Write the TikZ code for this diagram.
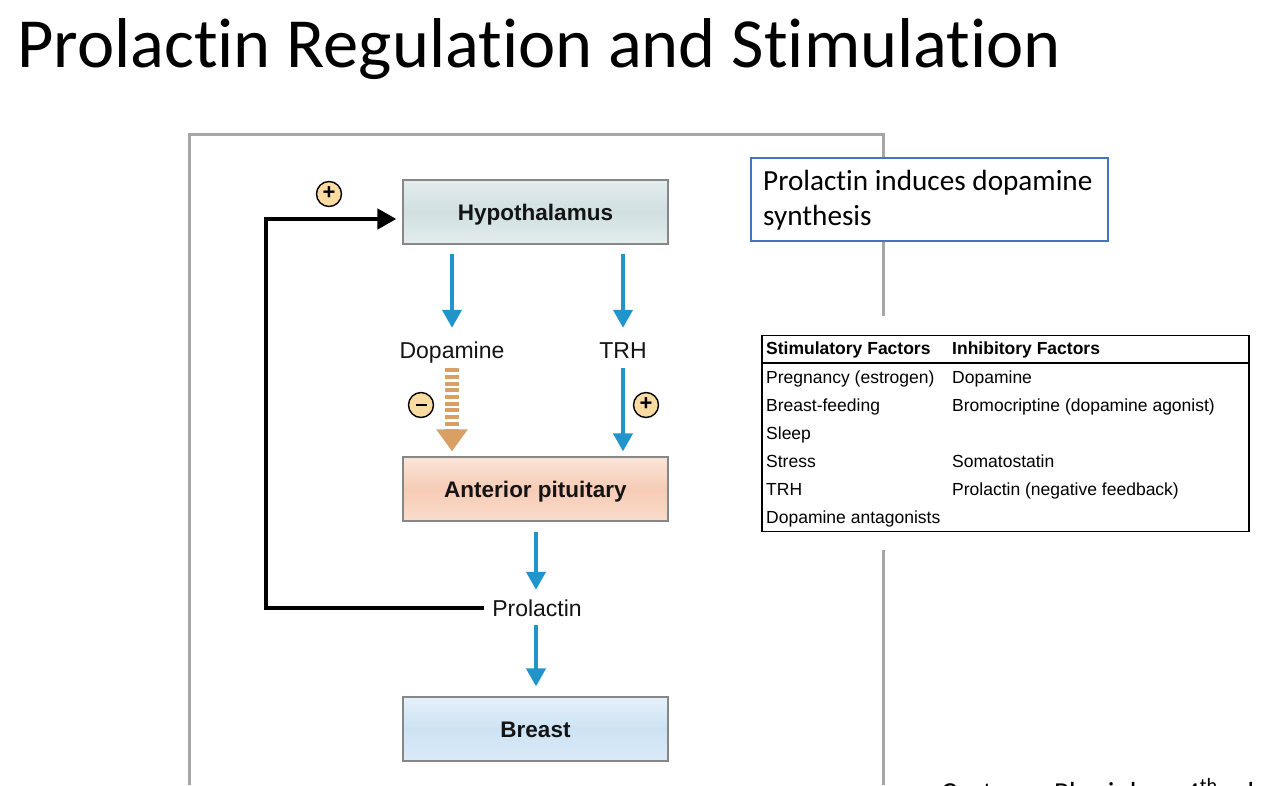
\documentclass[tikz,border=0pt]{standalone}
\usepackage{fontspec}
\setmainfont{Liberation Sans}
\newfontfamily\calibri[Ligatures=NoCommon]{Carlito}
\usetikzlibrary{arrows.meta}

\definecolor{framegray}{RGB}{166,166,166}
\definecolor{boxedge}{RGB}{135,135,135}
\definecolor{flowblue}{RGB}{32,148,203}
\definecolor{dopatan}{RGB}{217,160,102}
\definecolor{signfill}{RGB}{250,220,162}
\definecolor{noteblue}{RGB}{68,114,196}
\definecolor{hypoL}{RGB}{228,237,238}
\definecolor{hypoM}{RGB}{208,223,224}
\definecolor{pitL}{RGB}{251,229,216}
\definecolor{pitM}{RGB}{246,204,182}
\definecolor{brL}{RGB}{228,240,250}
\definecolor{brM}{RGB}{205,227,244}
\definecolor{inktext}{RGB}{20,20,20}

\tikzset{
  organ/.style={draw=boxedge, line width=1.2pt, minimum width=265pt, minimum height=64pt,
    inner sep=0pt, text height=16pt, text depth=0pt,
    font=\fontsize{22.5}{26}\selectfont\bfseries, text=inktext},
  lbl/.style={inner sep=0pt, text height=17pt, text depth=5pt,
    font=\fontsize{23}{26}\selectfont, text=inktext},
  flow/.style={draw=flowblue, line width=4pt,
    -{Triangle[width=19pt,length=18pt]}, color=flowblue},
  dopaflow/.style={draw=dopatan, line width=14pt, dash pattern=on 4pt off 2.7pt,
    -{Triangle[width=30pt,length=22pt]}, color=dopatan},
  feedback/.style={draw=black, line width=4.5pt, -{Triangle[width=20pt,length=19pt]}},
  sign/.style={circle, draw=black, line width=1.4pt, fill=signfill, minimum size=25pt,
    inner sep=0pt, font=\fontsize{22}{22}\selectfont\bfseries},
  framerule/.style={draw=framegray, line width=3pt},
  tabtext/.style={anchor=base west, inner sep=0pt, font=\fontsize{17.5}{20}\selectfont, text=black},
  tabhead/.style={tabtext, font=\fontsize{17.5}{20}\selectfont\bfseries},
}

\begin{document}
\begin{tikzpicture}[x=1pt, y=-1pt]
\useasboundingbox (0,0) rectangle (1279,785);
\fill[white] (0,0) rectangle (1279,785);

% title
\node[anchor=base west, inner sep=0pt, font=\calibri\fontsize{70.5}{80}\selectfont] (title)
  at (17,67) {Prolactin Regulation and Stimulation};

% figure frame
\draw[framerule] (189,785) -- (189,134) -- (883,134) -- (883,785);

% diagram boxes
\node[organ, shade, top color=hypoL, bottom color=hypoL, middle color=hypoM] (hypo)
  at (535.5,212) {Hypothalamus};
\node[organ, shade, top color=pitL, bottom color=pitL!60!pitM, middle color=pitM] (pit)
  at (535.5,489) {Anterior pituitary};
\node[organ, shade, top color=brL, bottom color=brL!60!brM, middle color=brM] (breast)
  at (535.5,729) {Breast};

% hormone labels
\node[lbl] (dopa) at (452,352) {Dopamine};
\node[lbl] (trh) at (623,352) {TRH};
\node[lbl] (prl) at (537,610) {Prolactin};

% hypothalamic outputs
\draw[flow, shorten <=9pt, shorten >=13pt] (hypo.south -| dopa.north) -- (dopa.north);
\draw[flow, shorten <=9pt, shorten >=13pt] (hypo.south -| trh.north) -- (trh.north);

% actions on the anterior pituitary
\draw[dopaflow, shorten <=5pt, shorten >=5pt] (dopa.south) -- (dopa.south |- pit.north);
\draw[flow, shorten <=5pt, shorten >=5pt] (trh.south) -- (trh.south |- pit.north);
\node[sign] (minus) at (421,405) {\rule[0pt]{11pt}{2.8pt}};
\node[sign] (plustrh) at (646,405) {\raisebox{1pt}{+}};

% prolactin release and target
\coordinate (prlx) at (536,0);
\draw[flow, shorten <=10pt, shorten >=9pt] (pit.south -| prlx) -- (prl.north -| prlx);
\draw[flow, shorten <=4pt, shorten >=10pt] (prl.south -| prlx) -- (breast.north -| prlx);

% feedback loop to the hypothalamus
\coordinate (fbcorner) at (266,219);
\draw[feedback, shorten <=8pt, shorten >=6pt]
  ([yshift=2pt]prl.west) -| (fbcorner) -- ([yshift=-7pt]hypo.west);
\node[sign] (plusfb) at (329,194) {\raisebox{1pt}{+}};

% note box
\node[draw=noteblue, line width=1.3pt, fill=white, minimum width=357pt, minimum height=83pt,
  inner sep=0pt] (note) at (929.5,199.5) {};
\node[anchor=base west, inner sep=0pt, font=\calibri\fontsize{29.2}{35}\selectfont] (noteA)
  at (763,190) {Prolactin induces dopamine};
\node[anchor=base west, inner sep=0pt, font=\calibri\fontsize{29.2}{35}\selectfont] (noteB)
  at (763,225) {synthesis};

% factor table
\fill[white] (745,316) rectangle (1262,550);
\node[draw=black, line width=1.6pt, minimum width=487pt, minimum height=196pt, inner sep=0pt]
  (table) at (1005.5,433.5) {};
\draw[line width=1.6pt] (table.west |- 0,363) -- (table.east |- 0,363);
\node[tabhead] (h1) at (766,354) {Stimulatory Factors};
\node[tabhead] (h2) at (952,354) {Inhibitory Factors};
\node[tabtext] (s1) at (766,383) {Pregnancy (estrogen)};
\node[tabtext] (s2) at (766,411) {Breast-feeding};
\node[tabtext] (s3) at (766,439) {Sleep};
\node[tabtext] (s4) at (766,467) {Stress};
\node[tabtext] (s5) at (766,495) {TRH};
\node[tabtext] (s6) at (766,523) {Dopamine antagonists};
\node[tabtext] (i1) at (952,383) {Dopamine};
\node[tabtext] (i2) at (952,411) {Bromocriptine (dopamine agonist)};
\node[tabtext] (i4) at (952,467) {Somatostatin};
\node[tabtext] (i5) at (952,495) {Prolactin (negative feedback)};

% source line running off the lower edge
\begin{scope}
\clip (0,0) rectangle (1279,785);
\node[anchor=base west, inner sep=0pt, font=\calibri\fontsize{29}{32}\selectfont] (source)
  at (941,802) {Costanzo Physiology 4\textsuperscript{th} ed};
\end{scope}
\end{tikzpicture}
\end{document}
